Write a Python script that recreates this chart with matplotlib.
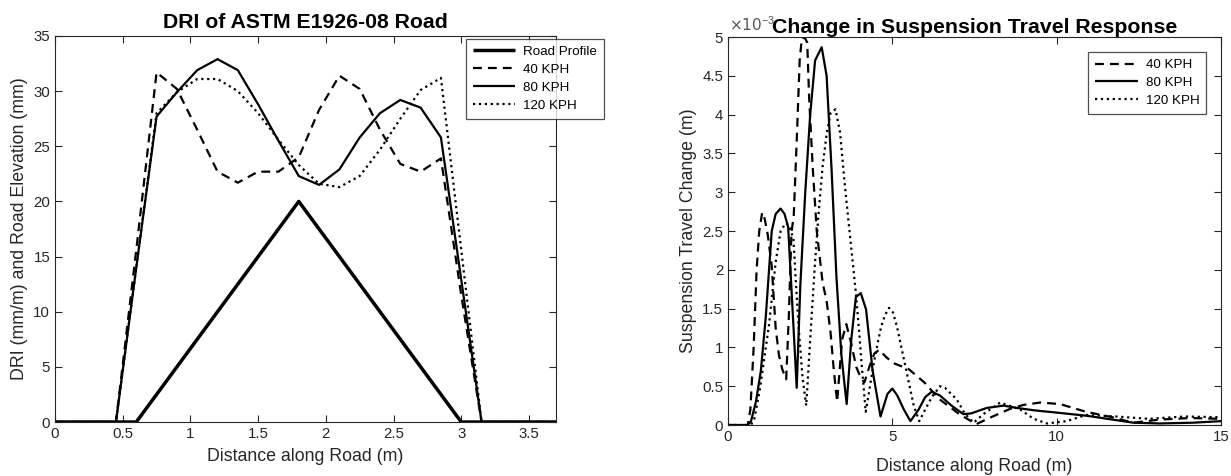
import matplotlib
matplotlib.use("Agg")
import matplotlib.pyplot as plt

plt.rcParams['font.family'] = ['Liberation Sans', 'DejaVu Sans']

# Left chart: DRI of ASTM E1926-08 road
road_x = [0, 0.6, 1.8, 3.0, 3.7]
road_y = [0, 0, 20, 0, 0]

dri_x = [0, 0.15, 0.3, 0.45, 0.6, 0.75, 0.9, 1.05, 1.2, 1.35, 1.5, 1.65, 1.8, 1.95,
         2.1, 2.25, 2.4, 2.55, 2.7, 2.85, 3.0, 3.15, 3.3, 3.45, 3.6, 3.7]
dri_40 = [0, 0, 0, 0, 15.6, 31.7, 30.2, 26.5, 22.7, 21.7, 22.7, 22.7, 24.0, 28.3,
          31.4, 30.2, 26.5, 23.4, 22.7, 23.9, 11.5, 0, 0, 0, 0, 0]
dri_80 = [0, 0, 0, 0, 14.0, 27.7, 29.9, 31.9, 32.9, 31.9, 28.8, 25.5, 22.3, 21.5,
          22.9, 25.8, 28.0, 29.2, 28.5, 25.8, 12.9, 0, 0, 0, 0, 0]
dri_120 = [0, 0, 0, 0, 14.0, 28.0, 29.9, 31.1, 31.1, 30.0, 28.0, 25.6, 23.3, 21.6,
           21.3, 22.3, 24.7, 27.5, 30.1, 31.2, 15.6, 0, 0, 0, 0, 0]

# Right chart: suspension travel change (values in 1e-3 m)
s40_x = [0, 0.6, 0.68, 0.78, 0.87, 0.95, 1.04, 1.12, 1.21, 1.33, 1.45, 1.55, 1.65, 1.77,
         1.85, 1.93, 2.0, 2.1, 2.18, 2.25, 2.35, 2.41, 2.47, 2.58, 2.7, 2.88, 3.0, 3.12,
         3.22, 3.32, 3.47, 3.6, 3.75, 3.9, 4.05, 4.15, 4.3, 4.45, 4.6, 4.8, 5.02, 5.5,
         5.97, 6.44, 7.04, 7.55, 8.0, 8.59, 9.0, 9.5, 10.1, 10.9, 11.7, 12.33, 13.14,
         14.05, 15.0]
s40_y = [0, 0, 0.2, 1.0, 2.0, 2.5, 2.74, 2.65, 2.45, 2.05, 1.25, 0.9, 0.72, 0.59,
         1.4, 2.48, 2.7, 3.77, 4.7, 5.0, 4.98, 4.93, 4.2, 3.3, 2.5, 1.83, 1.6, 1.19,
         0.7, 0.3, 1.1, 1.3, 1.05, 0.75, 0.6, 0.55, 0.75, 0.92, 0.97, 0.88, 0.80, 0.72,
         0.55, 0.33, 0.14, 0.01, 0.1, 0.21, 0.26, 0.29, 0.27, 0.17, 0.10, 0.03, 0.07,
         0.09, 0.08]

s80_x = [0, 0.6, 0.7, 0.85, 1.0, 1.15, 1.33, 1.45, 1.6, 1.72, 1.83, 1.95, 2.09, 2.2,
         2.35, 2.5, 2.65, 2.85, 3.0, 3.15, 3.3, 3.45, 3.61, 3.75, 3.89, 4.04, 4.2, 4.4,
         4.64, 4.85, 5.0, 5.15, 5.35, 5.55, 5.8, 6.0, 6.2, 6.45, 6.8, 7.16, 7.4, 7.87,
         8.38, 8.8, 9.3, 10.0, 10.9, 11.7, 12.33, 13.14, 14.15, 15.0]
s80_y = [0, 0, 0.05, 0.3, 0.7, 1.4, 2.5, 2.72, 2.79, 2.72, 2.55, 1.6, 0.48, 1.8,
         3.0, 4.0, 4.7, 4.87, 4.5, 3.3, 1.9, 0.9, 0.27, 1.1, 1.65, 1.70, 1.49, 0.7,
         0.11, 0.4, 0.47, 0.38, 0.2, 0.05, 0.2, 0.36, 0.43, 0.38, 0.25, 0.14, 0.15, 0.22,
         0.25, 0.22, 0.19, 0.16, 0.12, 0.07, 0.03, 0.02, 0.03, 0.05]

s120_x = [0, 0.7, 0.8, 0.97, 1.1, 1.25, 1.45, 1.6, 1.75, 1.85, 1.99, 2.07, 2.16, 2.27,
          2.38, 2.5, 2.64, 2.75, 2.88, 3.0, 3.12, 3.27, 3.41, 3.53, 3.65, 3.77, 3.89, 4.0,
          4.07, 4.19, 4.3, 4.42, 4.55, 4.66, 4.78, 4.9, 5.02, 5.14, 5.3, 5.5, 5.65, 5.82,
          6.0, 6.2, 6.45, 6.6, 6.96, 7.2, 7.47, 7.8, 8.28, 8.89, 9.3, 9.7, 10.3, 10.9,
          11.8, 12.8, 13.9, 15.0]
s120_y = [0, 0, 0.08, 0.46, 0.85, 1.3, 2.1, 2.5, 2.6, 2.58, 2.4, 1.8, 1.19, 0.6,
          0.25, 1.1, 2.05, 2.7, 3.34, 3.75, 4.02, 4.07, 3.77, 3.2, 2.69, 2.2, 1.70, 1.15,
          0.76, 0.17, 0.45, 0.76, 1.05, 1.27, 1.42, 1.51, 1.45, 1.27, 0.95, 0.55, 0.25, 0.05,
          0.2, 0.36, 0.50, 0.48, 0.33, 0.15, 0.03, 0.15, 0.29, 0.20, 0.08, 0.02, 0.05, 0.13,
          0.11, 0.08, 0.11, 0.10]

left_xticks = [0, 0.5, 1, 1.5, 2, 2.5, 3, 3.5]
right_yticks = [0, 0.5, 1, 1.5, 2, 2.5, 3, 3.5, 4, 4.5, 5]

grey = '#262626'
dash = (4, 2.7)
leg_opts = dict(fontsize=9.6, frameon=True, fancybox=False, handlelength=3.2,
                handletextpad=0.6, borderpad=0.5, labelspacing=0.42, borderaxespad=0)

fig = plt.figure(figsize=(12.31, 4.76), dpi=100)
ax1 = fig.add_axes([0.0447, 0.1134, 0.407, 0.811])
ax2 = fig.add_axes([0.5914, 0.1071, 0.4005, 0.815])

# left plot
ax1.plot(road_x, road_y, color='black', lw=2.5, solid_capstyle='butt', label='Road Profile')
ax1.plot(dri_x, dri_40, color='black', lw=1.6, dashes=dash, label='40 KPH')
ax1.plot(dri_x, dri_80, color='black', lw=1.6, solid_capstyle='butt', label='80 KPH')
ax1.plot(dri_x, dri_120, color='black', lw=1.6, ls=':', label='120 KPH')
ax1.set_xlim(0, 3.7)
ax1.set_ylim(0, 35)
ax1.set_xticks(left_xticks)
ax1.set_xticklabels([f'{t:g}' for t in left_xticks])
ax1.set_yticks(range(0, 36, 5))
ax1.set_title('DRI of ASTM E1926-08 Road', fontsize=15.3, fontweight='bold', pad=6)
ax1.set_xlabel('Distance along Road (m)', fontsize=12.8, color=grey, labelpad=5)
ax1.set_ylabel('DRI (mm/m) and Road Elevation (mm)', fontsize=12.8, color=grey)
leg1 = ax1.legend(loc='upper left', bbox_to_anchor=(0.82, 0.992), **leg_opts)

# right plot
ax2.plot(s40_x, s40_y, color='black', lw=1.6, dashes=dash, label='40 KPH')
ax2.plot(s80_x, s80_y, color='black', lw=1.6, solid_capstyle='butt', label='80 KPH')
ax2.plot(s120_x, s120_y, color='black', lw=1.6, ls=':', label='120 KPH')
ax2.set_xlim(0, 15)
ax2.set_ylim(0, 5)
ax2.set_xticks([0, 5, 10, 15])
ax2.set_yticks(right_yticks)
ax2.set_yticklabels([f'{t:g}' for t in right_yticks])
ax2.text(0.003, 1.008, r'$\times10^{\mathregular{-3}}$', transform=ax2.transAxes,
         ha='left', va='bottom', fontsize=11, color='#555555')
ax2.set_title('Change in Suspension Travel Response', fontsize=15.3, fontweight='bold', pad=3)
ax2.set_xlabel('Distance along Road (m)', fontsize=12.8, color=grey, labelpad=10)
ax2.set_ylabel('Suspension Travel Change (m)', fontsize=12.8, color=grey)
leg2 = ax2.legend(loc='upper right', bbox_to_anchor=(0.97, 0.961), **leg_opts)

# MATLAB-like axes: ticks inside on all sides
for ax, leg in ((ax1, leg1), (ax2, leg2)):
    ax.tick_params(direction='in', top=True, right=True, length=5, width=0.8,
                   labelsize=10.8, labelcolor=grey, color=grey)
    for sp in ax.spines.values():
        sp.set_color(grey)
        sp.set_linewidth(0.8)
    leg.get_frame().set_edgecolor(grey)
    leg.get_frame().set_linewidth(0.9)

fig.savefig('out.png', dpi=100)
